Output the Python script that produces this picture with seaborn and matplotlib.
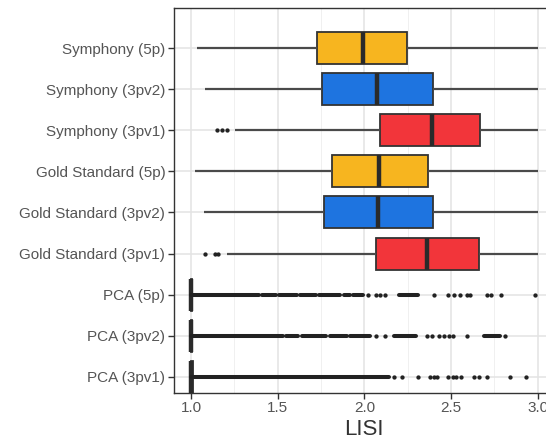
import numpy as np
import pandas as pd
import matplotlib
matplotlib.use("Agg")
import matplotlib.pyplot as plt
import seaborn as sns

# ---------------- data ----------------
methods = ["Symphony (5p)", "Symphony (3pv2)", "Symphony (3pv1)",
           "Gold Standard (5p)", "Gold Standard (3pv2)", "Gold Standard (3pv1)",
           "PCA (5p)", "PCA (3pv2)", "PCA (3pv1)"]
batch = ["5p", "3pv2", "3pv1", "5p", "3pv2", "3pv1", "5p", "3pv2", "3pv1"]

whisk_lo = [1.033, 1.081, 1.254, 1.023, 1.077, 1.206, 1.000, 1.000, 1.000]
q1       = [1.729, 1.758, 2.090, 1.814, 1.767, 2.066, 1.000, 1.000, 1.000]
median   = [1.994, 2.075, 2.393, 2.085, 2.077, 2.360, 1.000, 1.000, 1.000]
q3       = [2.245, 2.398, 2.668, 2.370, 2.395, 2.662, 1.003, 1.003, 1.012]
whisk_hi = [3.000, 3.000, 3.000, 3.000, 3.000, 3.000, 1.003, 1.003, 1.012]

# individual outliers
outliers = {
    "Symphony (3pv1)": [1.15, 1.18, 1.21],
    "Gold Standard (3pv1)": [1.08, 1.14, 1.155],
    "PCA (5p)": [2.02, 2.07, 2.09, 2.12, 2.40, 2.48, 2.52, 2.55, 2.59, 2.61,
                 2.71, 2.73, 2.79, 2.985],
    "PCA (3pv2)": [2.07, 2.12, 2.36, 2.39, 2.43, 2.46, 2.49, 2.51, 2.59, 2.81],
    "PCA (3pv1)": [2.17, 2.22, 2.31, 2.38, 2.40, 2.42, 2.48, 2.51, 2.53, 2.56,
                   2.63, 2.66, 2.71, 2.84, 2.93],
}
# ranges so densely covered by outliers that they read as solid runs
dense_spans = {
    "PCA (5p)": [(1.0, 1.39), (1.41, 1.49), (1.51, 1.61), (1.63, 1.72),
                 (1.74, 1.86), (1.88, 1.92), (1.935, 1.99), (2.20, 2.31)],
    "PCA (3pv2)": [(1.0, 1.53), (1.55, 1.62), (1.64, 1.78), (1.80, 1.90),
                   (1.92, 2.03), (2.17, 2.30), (2.69, 2.78)],
    "PCA (3pv1)": [(1.0, 2.14)],
}

palette = {"5p": "#F7B51F", "3pv2": "#1E74E0", "3pv1": "#F2353A"}

# ---------------- build long table ----------------
rows = []
for m, b, a, c, d, e, f in zip(methods, batch, whisk_lo, q1, median, q3, whisk_hi):
    for v in (a, c, d, e, f):
        rows.append({"method": m, "batch": b, "LISI": v})
df = pd.DataFrame(rows)

out_rows = [{"method": m, "LISI": v} for m, vals in outliers.items() for v in vals]
df_out = pd.DataFrame(out_rows)

# ---------------- plot ----------------
sns.set_theme(style="white")
plt.rcParams["font.family"] = ["Liberation Sans", "DejaVu Sans"]

W, H = 546, 441
fig = plt.figure(figsize=(W / 100, H / 100), dpi=100)
left_px, right_px, top_px, bottom_px = 173.7, 555.0, 8.0, 392.7
ax = fig.add_axes([left_px / W, 1 - bottom_px / H,
                   (right_px - left_px) / W, (bottom_px - top_px) / H])

edge = "#333333"
sns.boxplot(data=df, x="LISI", y="method", hue="batch", order=methods,
            palette=palette, dodge=False, whis=(0, 100), width=0.78,
            showfliers=False, showcaps=False, saturation=1, legend=False,
            linecolor=edge, linewidth=1.3,
            medianprops={"linewidth": 3.2, "color": "#2a2a2a"},
            whiskerprops={"linewidth": 1.6, "color": "#4a4a4a"},
            ax=ax, zorder=3)

ypos = {m: i for i, m in enumerate(methods)}
for m, spans in dense_spans.items():
    for a, b in spans:
        ax.hlines(ypos[m], a, b, color="#222222", linewidth=2.9, zorder=4,
                  capstyle="round")

sns.stripplot(data=df_out, x="LISI", y="method", order=methods, jitter=False,
              color="#222222", size=3.1, linewidth=0, ax=ax, zorder=5)

ax.set_xlim(0.9, 3.1)
ax.set_ylim(8.384, -0.973)
ax.set_xticks([1.0, 1.5, 2.0, 2.5, 3.0])
ax.set_xticklabels(["1.0", "1.5", "2.0", "2.5", "3.0"])
ax.set_xticks([1.25, 1.75, 2.25, 2.75], minor=True)

ax.grid(True, which="major", axis="both", color="#E3E3E3", linewidth=1.1, zorder=0)
ax.grid(True, which="minor", axis="x", color="#EEEEEE", linewidth=0.6, zorder=0)
ax.set_axisbelow(True)

for s in ax.spines.values():
    s.set_color(edge)
    s.set_linewidth(1.0)

ax.tick_params(axis="both", which="major", length=4, width=1.0, color=edge,
               labelsize=11, labelcolor="#555555", pad=2, left=True, bottom=True)
ax.tick_params(axis="x", which="minor", length=0)
ax.set_ylabel("")
ax.set_xlabel("LISI", fontsize=16, color="#333333", labelpad=3)

fig.savefig("out.png", dpi=100)
